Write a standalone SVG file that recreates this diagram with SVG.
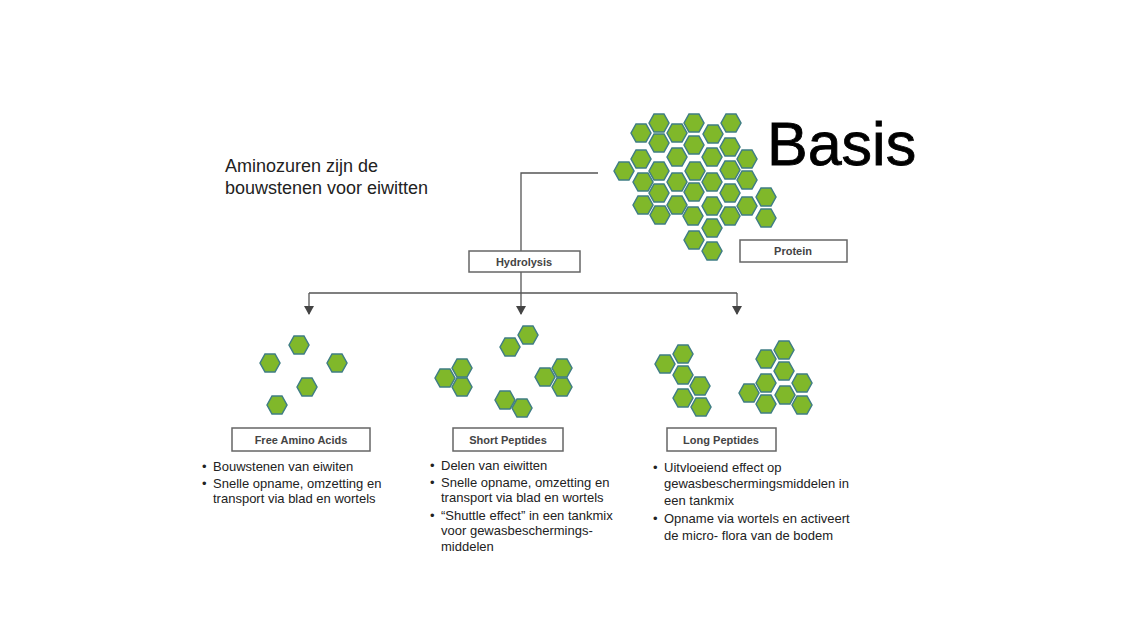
<svg xmlns="http://www.w3.org/2000/svg" xmlns:xlink="http://www.w3.org/1999/xlink" width="1132" height="637" viewBox="0 0 1132 637">
<style>
.h{fill:#80b82a;stroke:#3f7d84;stroke-width:1.5}
.box{fill:#fff;stroke:#666;stroke-width:1.5}
.lb{font-family:"Liberation Sans",Arial,sans-serif;font-size:11px;font-weight:bold;fill:#444;text-anchor:middle}
.t{font-family:"Liberation Sans",Arial,sans-serif;font-size:13px;fill:#222}
.ln{stroke:#555;stroke-width:1.3;fill:none}
</style>
<defs>
<polygon id="hx" class="h" points="-10,0 -5,-9 5,-9 10,0 5,9 -5,9"/>
<marker id="ar" markerWidth="10" markerHeight="10" refX="5" refY="8" orient="0" markerUnits="userSpaceOnUse"><path d="M0,0 L10,0 L5,9 Z" fill="#444"/></marker>
</defs>
<rect width="1132" height="637" fill="#fff"/>
<text x="225" y="172" font-family="Liberation Sans,Arial,sans-serif" font-size="18" fill="#222">Aminozuren zijn de</text>
<text x="225" y="194" font-family="Liberation Sans,Arial,sans-serif" font-size="18" fill="#222">bouwstenen voor eiwitten</text>
<text x="767" y="165" font-family="Liberation Sans,Arial,sans-serif" font-size="61" fill="#000" stroke="#000" stroke-width="0.8">Basis</text>
<g id="connectors">
<polyline class="ln" points="598,173 521,173 521,251"/>
<line class="ln" x1="521" y1="272" x2="521" y2="293"/>
<line class="ln" x1="309" y1="293" x2="737" y2="293"/>
<line class="ln" x1="309" y1="293" x2="309" y2="314" marker-end="url(#ar)"/>
<line class="ln" x1="521" y1="293" x2="521" y2="314" marker-end="url(#ar)"/>
<line class="ln" x1="737" y1="293" x2="737" y2="314" marker-end="url(#ar)"/>
</g>
<g id="protein">
<use href="#hx" x="659" y="123"/><use href="#hx" x="694" y="123"/><use href="#hx" x="731" y="123"/>
<use href="#hx" x="641" y="133"/><use href="#hx" x="677" y="133"/><use href="#hx" x="713" y="134"/>
<use href="#hx" x="659" y="143"/><use href="#hx" x="694" y="145"/><use href="#hx" x="730" y="147"/>
<use href="#hx" x="641" y="159"/><use href="#hx" x="677" y="157"/><use href="#hx" x="712" y="157"/><use href="#hx" x="747" y="159"/>
<use href="#hx" x="624" y="171"/><use href="#hx" x="659" y="171"/><use href="#hx" x="695" y="171"/><use href="#hx" x="730" y="170"/>
<use href="#hx" x="643" y="182"/><use href="#hx" x="677" y="182"/><use href="#hx" x="712" y="182"/><use href="#hx" x="747" y="180"/>
<use href="#hx" x="659" y="193"/><use href="#hx" x="694" y="192"/><use href="#hx" x="730" y="193"/><use href="#hx" x="766" y="197"/>
<use href="#hx" x="643" y="205"/><use href="#hx" x="677" y="205"/><use href="#hx" x="712" y="206"/><use href="#hx" x="747" y="206"/>
<use href="#hx" x="660" y="215"/><use href="#hx" x="693" y="216"/><use href="#hx" x="730" y="216"/><use href="#hx" x="766" y="218"/>
<use href="#hx" x="712" y="228"/><use href="#hx" x="694" y="240"/><use href="#hx" x="712" y="251"/>
<rect class="box" x="740" y="240" width="107" height="22"/><text class="lb" x="793" y="255">Protein</text>
</g>
<g id="hydrolysis"><rect class="box" x="469" y="251" width="111" height="21"/><text class="lb" x="524" y="266">Hydrolysis</text></g>
<g id="free">
<use href="#hx" x="299" y="345"/><use href="#hx" x="270" y="363"/><use href="#hx" x="337" y="363"/><use href="#hx" x="307" y="387"/><use href="#hx" x="277" y="405"/>
<rect class="box" x="232" y="428" width="138" height="23"/><text class="lb" x="301" y="444">Free Amino Acids</text>
<text class="t"><tspan x="202" y="471">•</tspan><tspan x="213" y="471">Bouwstenen van eiwiten</tspan><tspan x="202" y="488">•</tspan><tspan x="213" y="488">Snelle opname, omzetting en</tspan><tspan x="213" y="503">transport via blad en wortels</tspan></text>
</g>
<g id="short">
<use href="#hx" x="510" y="347"/><use href="#hx" x="528" y="335"/>
<use href="#hx" x="445" y="378"/><use href="#hx" x="462" y="368"/><use href="#hx" x="462" y="387"/>
<use href="#hx" x="545" y="377"/><use href="#hx" x="562" y="368"/><use href="#hx" x="562" y="387"/>
<use href="#hx" x="505" y="400"/><use href="#hx" x="522" y="408"/>
<rect class="box" x="453" y="428" width="110" height="23"/><text class="lb" x="508" y="444">Short Peptides</text>
<text class="t"><tspan x="430" y="470">•</tspan><tspan x="441" y="470">Delen van eiwitten</tspan><tspan x="430" y="487">•</tspan><tspan x="441" y="487">Snelle opname, omzetting en</tspan><tspan x="441" y="502">transport via blad en wortels</tspan><tspan x="430" y="520">•</tspan><tspan x="441" y="520">“Shuttle effect” in een tankmix</tspan><tspan x="441" y="535">voor gewasbeschermings-</tspan><tspan x="441" y="551">middelen</tspan></text>
</g>
<g id="long">
<use href="#hx" x="665" y="364"/><use href="#hx" x="683" y="354"/><use href="#hx" x="683" y="375"/><use href="#hx" x="700" y="386"/><use href="#hx" x="683" y="398"/><use href="#hx" x="701" y="407"/>
<use href="#hx" x="766" y="359"/><use href="#hx" x="784" y="350"/><use href="#hx" x="784" y="371"/><use href="#hx" x="766" y="383"/><use href="#hx" x="749" y="393"/><use href="#hx" x="766" y="404"/><use href="#hx" x="785" y="395"/><use href="#hx" x="802" y="383"/><use href="#hx" x="802" y="405"/>
<rect class="box" x="667" y="428" width="109" height="23"/><text class="lb" x="721" y="444">Long Peptides</text>
<text class="t"><tspan x="653" y="472">•</tspan><tspan x="664" y="472">Uitvloeiend effect  op</tspan><tspan x="664" y="488">gewasbeschermingsmiddelen in</tspan><tspan x="664" y="505">een tankmix</tspan><tspan x="653" y="523">•</tspan><tspan x="664" y="523">Opname via wortels en activeert</tspan><tspan x="664" y="540">de micro- flora van de bodem</tspan></text>
</g>
</svg>
